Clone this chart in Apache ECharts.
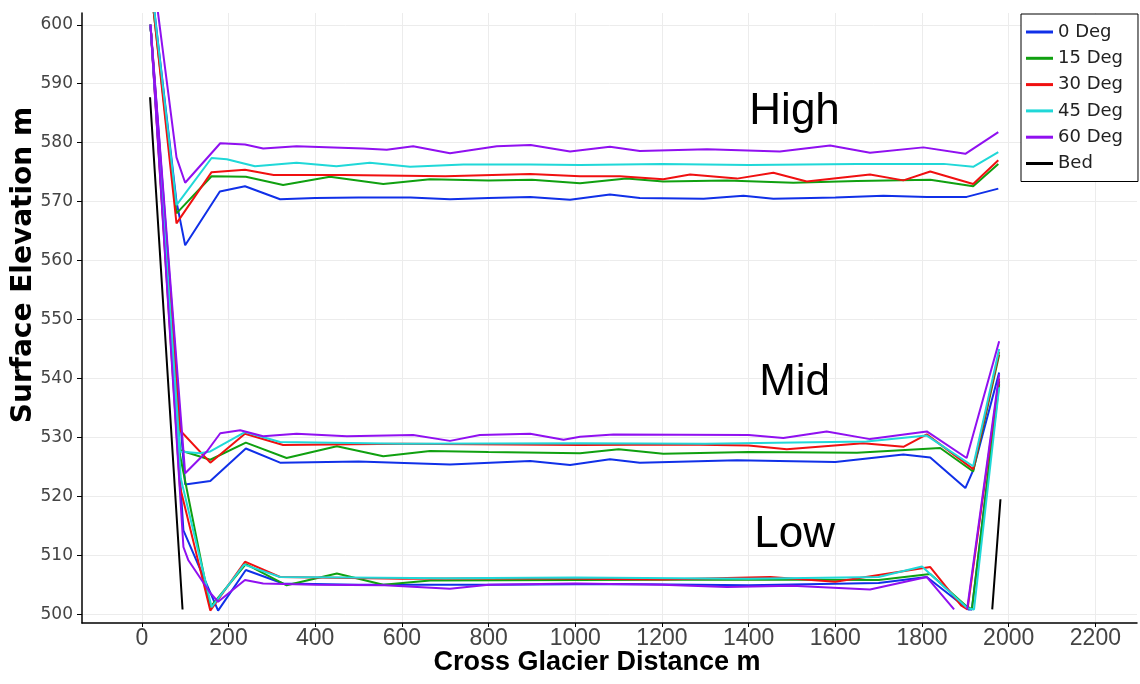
<!DOCTYPE html>
<html><head><meta charset="utf-8">
<script src="https://cdn.jsdelivr.net/npm/echarts@6/dist/echarts.min.js"></script>
<style>html,body{margin:0;padding:0;background:#fff}#c{width:1140px;height:684px}</style>
</head><body><div id="c"></div>
<script>
const xTicks = [0,200,400,600,800,1000,1200,1400,1600,1800,2000,2200];
const yTicks = [500,510,520,530,540,550,560,570,580,590,600];
const legendNames = ['0 Deg','15 Deg','30 Deg','45 Deg','60 Deg','Bed'];
const lineColors = ['#1030e8','#10a010','#f01010','#20d8d8','#9010f0','#000000'];

// High band
const high0 = [[20,608],[80,570],[100,562.6],[180,571.7],[238,572.6],[319,570.4],[400,570.6],[500,570.7],[620,570.7],[711,570.4],[800,570.6],[896,570.8],[988,570.3],[1080,571.2],[1149,570.6],[1296,570.5],[1388,571.0],[1457,570.5],[1600,570.7],[1711,571.0],[1811,570.8],[1903,570.8],[1976,572.2]];
const high15 = [[20,607],[80,568.0],[161,574.3],[240,574.2],[326,572.8],[434,574.2],[557,573.0],[665,573.8],[800,573.6],[900,573.7],[1011,573.1],[1118,573.9],[1203,573.4],[1350,573.6],[1503,573.2],[1650,573.5],[1819,573.7],[1918,572.6],[1976,576.4]];
const high30 = [[20,607.3],[80,566.3],[161,575.0],[238,575.4],[304,574.5],[465,574.5],[700,574.3],[896,574.7],[1011,574.3],[1103,574.3],[1203,573.8],[1265,574.6],[1373,573.9],[1457,574.9],[1534,573.4],[1680,574.6],[1757,573.6],[1819,575.1],[1918,573.0],[1976,577.0]];
const high45 = [[20,608],[80,569.4],[161,577.4],[196,577.2],[261,576.0],[357,576.6],[449,576.0],[526,576.6],[619,575.9],[742,576.3],[896,576.3],[1011,576.2],[1200,576.4],[1400,576.2],[1650,576.4],[1850,576.4],[1918,575.9],[1976,578.4]];
const high60 = [[20,612],[80,577.5],[100,573.2],[181,579.9],[238,579.7],[280,579.0],[357,579.4],[511,579.0],[565,578.8],[626,579.4],[711,578.2],[819,579.4],[897,579.6],[988,578.5],[1080,579.3],[1149,578.6],[1304,578.9],[1472,578.5],[1588,579.5],[1680,578.3],[1803,579.2],[1900,578.1],[1976,581.8]];

// Mid band
const mid0 = [[20,600],[100,522.0],[158,522.6],[240,528.1],[319,525.7],[500,525.9],[711,525.4],[896,526.0],[988,525.3],[1080,526.3],[1149,525.7],[1373,526.1],[1600,525.8],[1757,527.1],[1819,526.6],[1900,521.4],[1918,524.4],[1978,541.0]];
const mid15 = [[20,600],[88,527.8],[158,526.2],[240,529.1],[334,526.5],[450,528.5],[557,526.8],[665,527.7],[800,527.5],[1011,527.3],[1100,528.0],[1203,527.2],[1400,527.5],[1650,527.4],[1842,528.2],[1918,524.2],[1978,544.0]];
const mid30 = [[20,600],[88,531.2],[158,525.7],[238,530.6],[326,528.7],[600,528.9],[1011,528.7],[1250,528.8],[1400,528.6],[1488,528.0],[1664,529.0],[1757,528.4],[1811,530.5],[1918,524.6],[1978,544.5]];
const mid45 = [[20,600],[88,527.6],[134,527.3],[158,527.6],[238,530.9],[319,529.2],[600,528.9],[1011,529.0],[1300,528.9],[1672,529.3],[1811,530.3],[1918,525.1],[1978,545.0]];
const mid60 = [[20,600],[100,523.9],[150,527.6],[181,530.7],[227,531.2],[280,530.2],[357,530.6],[473,530.2],[626,530.4],[711,529.4],[780,530.4],[896,530.6],[973,529.6],[1011,530.1],[1088,530.5],[1400,530.4],[1480,529.9],[1580,531.0],[1680,529.7],[1811,531.0],[1903,526.5],[1978,546.3]];

// Low band
const low0 = [[20,600],[96,514.2],[176,500.6],[240,507.5],[326,505.2],[500,505.0],[800,505.0],[1100,505.1],[1400,504.9],[1700,505.3],[1811,506.3],[1907,500.8],[1915,500.8],[1978,539.5]];
const low15 = [[20,600],[88,527.0],[158,501.2],[240,508.5],[334,504.9],[450,506.9],[557,505.0],[665,505.7],[1000,505.8],[1400,505.9],[1700,505.8],[1819,506.8],[1900,501.5],[1915,500.8],[1978,539.0]];
const low30 = [[20,600],[88,521.6],[158,500.6],[238,508.9],[319,506.3],[600,506.0],[900,506.1],[1200,505.9],[1450,506.3],[1600,505.5],[1819,508.0],[1890,501.5],[1905,500.8],[1978,540.0]];
const low45 = [[20,600],[90,523.0],[161,501.2],[236,508.4],[319,506.3],[700,506.1],[1000,506.2],[1400,506.0],[1700,506.3],[1800,508.1],[1905,501.0],[1920,500.8],[1978,538.5]];
const low60 = [[20,600],[96,511.4],[107,509.2],[158,503.6],[176,502.1],[238,505.8],[280,505.2],[400,505.0],[560,504.9],[711,504.3],[800,505.0],[1000,505.2],[1200,505.0],[1350,504.6],[1500,504.8],[1680,504.2],[1811,506.3],[1874,500.8],[1890,null],[1904,500.8],[1978,540.7]];

// Bed
const bed = [[19,587.7],[94,500.8],[1000,null],[1962,500.8],[1981,519.5]];

const annotations = [['High',1506,585.3],['Mid',1506,539.3],['Low',1506,513.4]];

const bands = [
  [high0, mid0, low0],
  [high15, mid15, low15],
  [high30, mid30, low30],
  [high45, mid45, low45],
  [high60, mid60, low60]
];

const series = [];
bands.forEach((arrs, i) => {
  arrs.forEach(d => {
    series.push({
      type: 'line', name: legendNames[i], data: d,
      symbol: 'none', showSymbol: false, connectNulls: false,
      lineStyle: { color: lineColors[i], width: 2 },
      itemStyle: { color: lineColors[i] },
      emphasis: { disabled: true }, animation: false
    });
  });
});
series.push({
  type: 'line', name: 'Bed', data: bed,
  symbol: 'none', showSymbol: false, connectNulls: false,
  lineStyle: { color: lineColors[5], width: 2 },
  itemStyle: { color: lineColors[5] },
  emphasis: { disabled: true }, animation: false
});

const chart = echarts.init(document.getElementById('c'), null, { renderer: 'canvas' });
const option = {
  animation: false,
  backgroundColor: '#ffffff',
  grid: { left: 82, right: 3, top: 13, bottom: 61, containLabel: false },
  xAxis: {
    type: 'value', min: -138, max: 2296,
    axisLine: { show: true, onZero: false, lineStyle: { color: '#000', width: 1.5 } },
    axisTick: { show: true, length: 4, lineStyle: { color: '#000' }, customValues: xTicks },
    axisLabel: { customValues: xTicks, formatter: v => String(v), color: '#444', fontFamily: 'Liberation Sans', fontSize: 23, margin: 4 },
    splitLine: { show: true, lineStyle: { color: '#ececec', width: 1 } }
  },
  yAxis: {
    type: 'value', min: 498.5, max: 602,
    axisLine: { show: true, onZero: false, lineStyle: { color: '#000', width: 1.5 } },
    axisTick: { show: true, length: 5, lineStyle: { color: '#000' }, customValues: yTicks },
    axisLabel: { customValues: yTicks, formatter: v => String(v), color: '#444', fontFamily: 'DejaVu Sans', fontSize: 17, margin: 9 },
    splitLine: { show: true, lineStyle: { color: '#ececec', width: 1 } }
  },
  legend: {
    data: legendNames, orient: 'vertical', left: 1021, top: 14,
    padding: [8, 15, 8, 5], itemGap: 6.3, itemWidth: 27, itemHeight: 3,
    icon: 'rect', selectedMode: false,
    borderColor: '#000', borderWidth: 1, backgroundColor: '#fff',
    textStyle: { color: '#222', fontFamily: 'DejaVu Sans', fontSize: 18, lineHeight: 20 }
  },
  series: series
};
chart.setOption(option);

const graphics = [
  { type: 'text', x: 24, y: 265, rotation: Math.PI / 2,
    style: { text: 'Surface Elevation m', fontFamily: 'DejaVu Sans', fontWeight: 'bold', fontSize: 28, fill: '#000', align: 'center', verticalAlign: 'middle' } },
  { type: 'text', x: 597, y: 663,
    style: { text: 'Cross Glacier Distance m', fontFamily: 'Liberation Sans', fontWeight: 'bold', fontSize: 27, fill: '#000', align: 'center', verticalAlign: 'middle' } }
];
annotations.forEach(a => {
  const p = chart.convertToPixel({ gridIndex: 0 }, [a[1], a[2]]);
  graphics.push({ type: 'text', x: p[0], y: p[1],
    style: { text: a[0], fontFamily: 'Liberation Sans', fontSize: 44, fill: '#000', align: 'center', verticalAlign: 'middle' } });
});
chart.setOption({ graphic: graphics });
</script></body></html>
